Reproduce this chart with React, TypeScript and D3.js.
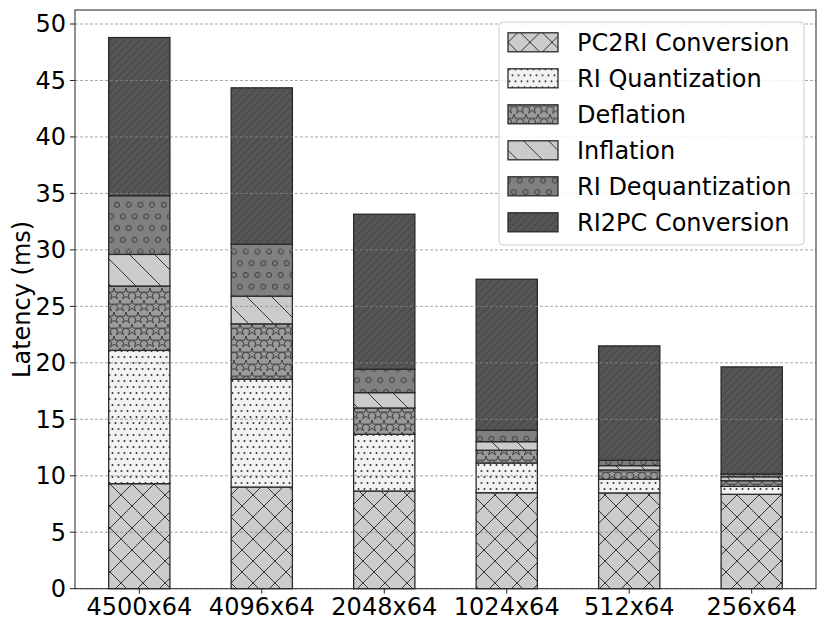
import * as d3 from 'd3'

const categories = ['4500x64', '4096x64', '2048x64', '1024x64', '512x64', '256x64']
const pc2ri = [9.3, 9.0, 8.65, 8.5, 8.48, 8.36]
const riQuant = [11.8, 9.55, 5.02, 2.63, 1.21, 0.7]
const deflation = [5.7, 4.9, 2.33, 1.13, 0.82, 0.5]
const inflation = [2.8, 2.45, 1.36, 0.76, 0.39, 0.35]
const riDequant = [5.2, 4.6, 2.07, 1.01, 0.47, 0.25]
const ri2pc = [14.0, 13.85, 13.73, 13.37, 10.13, 9.48]
const seriesNames = ['PC2RI Conversion', 'RI Quantization', 'Deflation', 'Inflation', 'RI Dequantization', 'RI2PC Conversion']
const yTicks = [0, 5, 10, 15, 20, 25, 30, 35, 40, 45, 50]

const fills = ['#cbcbcb', '#f2f2f2', '#9a9a9a', '#cbcbcb', '#808080', '#555555']
const hatchIds = ['h-x', 'h-dot', 'h-star', 'h-bslash', 'h-circ', 'h-slash']

const W = 831
const H = 623
const left = 75
const right = 816
const top = 10
const bottom = 588.7
const font = 'DejaVu Sans, sans-serif'
const hatch = '#333'

const App = () => {
  const table = categories.map((c, i) => ({
    cat: c,
    s0: pc2ri[i], s1: riQuant[i], s2: deflation[i],
    s3: inflation[i], s4: riDequant[i], s5: ri2pc[i],
  }))
  const stack = d3.stack<any>().keys(['s0', 's1', 's2', 's3', 's4', 's5'])(table)

  const x = d3.scaleBand()
    .domain(categories)
    .range([left, right])
    .paddingInner(0.5)
    .paddingOuter(0.275)
  const y = d3.scaleLinear().domain([0, 51.24]).range([bottom, top])

  const star = d3.symbol().type(d3.symbolStar).size(40)()

  return (
    <svg width={W} height={H} style={{ position: 'absolute', left: 0, top: 0 }}>
      <defs>
        <pattern id="h-x" patternUnits="userSpaceOnUse" width={22} height={22}>
          <rect width={22} height={22} fill={fills[0]} />
          <path d="M0,0 L22,22 M22,0 L0,22" stroke={hatch} strokeWidth={1} />
        </pattern>
        <pattern id="h-dot" patternUnits="userSpaceOnUse" width={6} height={12}>
          <rect width={6} height={12} fill={fills[1]} />
          <circle cx={1.5} cy={3} r={1} fill={hatch} />
          <circle cx={4.5} cy={9} r={1} fill={hatch} />
        </pattern>
        <pattern id="h-star" patternUnits="userSpaceOnUse" width={12} height={24}>
          <rect width={12} height={24} fill={fills[2]} />
          <path d={star!} transform="translate(6,6)" fill="none" stroke={hatch} strokeWidth={0.9} />
          <path d={star!} transform="translate(0,18)" fill="none" stroke={hatch} strokeWidth={0.9} />
          <path d={star!} transform="translate(12,18)" fill="none" stroke={hatch} strokeWidth={0.9} />
        </pattern>
        <pattern id="h-bslash" patternUnits="userSpaceOnUse" width={25} height={25}>
          <rect width={25} height={25} fill={fills[3]} />
          <path d="M0,0 L25,25 M-5,20 L5,30 M20,-5 L30,5" stroke={hatch} strokeWidth={1} />
        </pattern>
        <pattern id="h-circ" patternUnits="userSpaceOnUse" width={11.7} height={23.4}>
          <rect width={11.7} height={23.4} fill={fills[4]} />
          <circle cx={5.85} cy={5.85} r={2.5} fill="none" stroke={hatch} strokeWidth={0.9} />
          <circle cx={0} cy={17.55} r={2.5} fill="none" stroke={hatch} strokeWidth={0.9} />
          <circle cx={11.7} cy={17.55} r={2.5} fill="none" stroke={hatch} strokeWidth={0.9} />
        </pattern>
        <pattern id="h-slash" patternUnits="userSpaceOnUse" width={7.5} height={7.5}>
          <rect width={7.5} height={7.5} fill={fills[5]} />
          <path d="M0,7.5 L7.5,0 M-2,2 L2,-2 M5.5,9.5 L9.5,5.5" stroke="#383838" strokeWidth={0.8} />
        </pattern>
      </defs>

      <rect width={W} height={H} fill="white" />

      {stack.map((layer, k) => (
        <g key={layer.key}>
          {layer.map((d, i) => (
            <rect
              key={i}
              x={x(categories[i])}
              width={x.bandwidth()}
              y={y(d[1])}
              height={y(d[0]) - y(d[1])}
              fill={`url(#${hatchIds[k]})`}
              stroke="#2a2a2a"
              strokeWidth={1.3}
            />
          ))}
        </g>
      ))}

      {yTicks.map(t => (
        <line key={t} x1={left} x2={right} y1={y(t)} y2={y(t)}
          stroke="#888" strokeOpacity={0.75} strokeDasharray="3,2" strokeWidth={1} />
      ))}

      <rect x={left} y={top} width={right - left} height={bottom - top}
        fill="none" stroke="#222" strokeWidth={1} />

      {yTicks.map(t => (
        <g key={t} transform={`translate(${left},${y(t)})`}>
          <line x1={-5} x2={0} stroke="#222" />
          <text x={-9} dy="0.35em" textAnchor="end" fontFamily={font} fontSize={24}>{t}</text>
        </g>
      ))}

      {categories.map(c => (
        <g key={c} transform={`translate(${x(c)! + x.bandwidth() / 2},${bottom})`}>
          <line y2={5} stroke="#222" />
          <text y={26} textAnchor="middle" fontFamily={font} fontSize={24}>{c}</text>
        </g>
      ))}

      <text transform={`translate(30,${(top + bottom) / 2}) rotate(-90)`}
        textAnchor="middle" fontFamily={font} fontSize={24}>Latency (ms)</text>

      <g>
        <rect x={499} y={22} width={305} height={223} rx={4}
          fill="white" fillOpacity={0.85} stroke="#cccccc" />
        {seriesNames.map((n, k) => (
          <g key={n} transform={`translate(508,${42.3 + k * 36})`}>
            <rect x={0} y={-9.5} width={50} height={19} fill={`url(#${hatchIds[k]})`}
              stroke="#2a2a2a" strokeWidth={1.3} />
            <text x={69} dy="0.35em" fontFamily={font} fontSize={24}>{n}</text>
          </g>
        ))}
      </g>
    </svg>
  )
}

export default App
